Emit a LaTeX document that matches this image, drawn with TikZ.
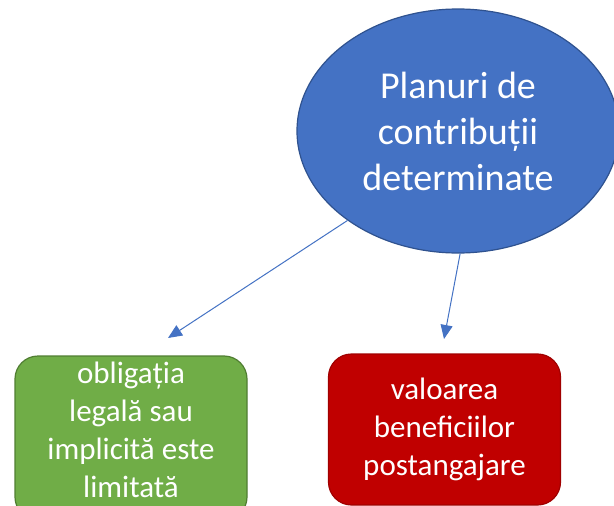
\documentclass[tikz,border=0pt]{standalone}
\usepackage{fontspec}
\setmainfont{Carlito}
\usetikzlibrary{shapes.geometric,arrows.meta}
\definecolor{ellfill}{HTML}{4472C4}
\definecolor{elldraw}{HTML}{2F528F}
\definecolor{grfill}{HTML}{70AD47}
\definecolor{grdraw}{HTML}{507E32}
\definecolor{rdfill}{HTML}{C00000}
\definecolor{rddraw}{HTML}{A00000}
\tikzset{
  ellbox/.style={ellipse, fill=ellfill, draw=elldraw, line width=1.2pt,
    minimum width=322pt, minimum height=244pt, inner sep=0pt,
    text=white, align=center, font=\fontsize{38}{46}\selectfont},
  leafbox/.style={rectangle, rounded corners=23pt, line width=1.2pt,
    minimum width=232pt, inner sep=0pt,
    text=white, align=center, font=\fontsize{31}{38}\selectfont},
  leaftext/.style={text=white, align=center, inner sep=0pt, font=\fontsize{31}{38}\selectfont},
  link/.style={draw=ellfill, line width=1pt, -{Triangle[length=14pt,width=12pt]}}
}
\begin{document}
\begin{tikzpicture}[x=1pt,y=-1pt]
\useasboundingbox (0,0) rectangle (614,506);
\clip (0,0) rectangle (614,506);
\fill[white] (0,0) rectangle (614,506);
\node[ellbox] (ell) at (458,131) {Planuri de\\contribuții\\determinate};
\node[leafbox, fill=grfill, draw=grdraw, minimum height=164pt,
  label={[leaftext, yshift=8pt]center:obligația\\legală sau\\implicită este\\limitată}]
  (green) at (131,438) {};
\node[leafbox, fill=rdfill, draw=rddraw, minimum height=151pt] (red) at (444.5,429.5)
  {valoarea\\beneficiilor\\postangajare};
\coordinate (t1) at (168,338);
\coordinate (t2) at (444,339);
\draw[link] (ell.219) -- (t1);
\draw[link] (ell.271) -- (t2);
\end{tikzpicture}
\end{document}
